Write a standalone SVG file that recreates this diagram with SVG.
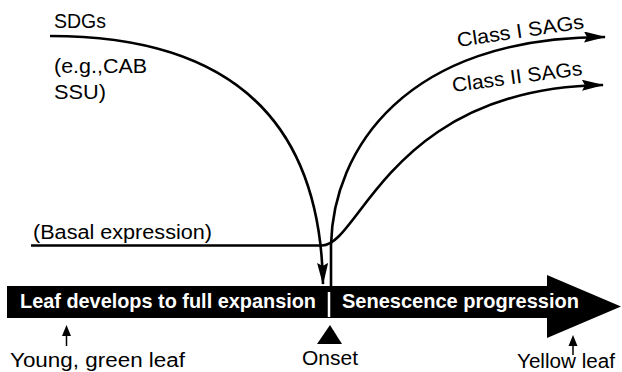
<svg xmlns="http://www.w3.org/2000/svg" width="622" height="372" viewBox="0 0 622 372">
<defs>
<style>
.t{font-family:"Liberation Sans",Arial,sans-serif;font-size:20px;fill:#000}
.b{font-family:"Liberation Sans",Arial,sans-serif;font-size:21px;font-weight:bold;fill:#fff}
.c{fill:none;stroke:#000;stroke-width:2.6}
</style>
<marker id="ah" markerWidth="22" markerHeight="11" refX="21" refY="5.5" orient="auto" markerUnits="userSpaceOnUse">
<path d="M0,0 L22,5.5 L0,11 L3,5.5 Z" fill="#000"/>
</marker>
</defs>
<rect width="622" height="372" fill="#fff"/>
<g id="timeline">
<path d="M7,286 L547,286 L547,275 L621,306.5 L547,338 L547,318 L7,318 Z" fill="#000"/>
<text class="b" x="20" y="308" textLength="296" lengthAdjust="spacingAndGlyphs">Leaf develops to full expansion</text>
<line x1="329" y1="292" x2="329" y2="317" stroke="#fff" stroke-width="2.5"/>
<text class="b" x="342" y="308" textLength="237" lengthAdjust="spacingAndGlyphs">Senescence progression</text>
</g>
<g id="connectors">
<path class="c" d="M50,36 C230,36 320,120 323,284" marker-end="url(#ah)"/>
<path class="c" d="M331,286 L331,245 C333,150 405,37 605,37" marker-end="url(#ah)"/>
<path class="c" d="M31,245.5 L322,245.5 C360,245.5 390,88 603,85" marker-end="url(#ah)"/>
</g>
<g id="sdgs">
<text class="t" x="54" y="28" textLength="52" lengthAdjust="spacingAndGlyphs">SDGs</text>
<text class="t" x="54" y="73" textLength="93" lengthAdjust="spacingAndGlyphs">(e.g.,CAB</text>
<text class="t" x="54" y="99" textLength="52" lengthAdjust="spacingAndGlyphs">SSU)</text>
</g>
<g id="basal">
<text class="t" x="33" y="239" textLength="179" lengthAdjust="spacingAndGlyphs">(Basal expression)</text>
</g>
<g id="class1">
<text class="t" x="458" y="47" transform="rotate(-8.5 458 47)" textLength="128" lengthAdjust="spacingAndGlyphs">Class I SAGs</text>
</g>
<g id="class2">
<text class="t" x="453" y="92" transform="rotate(-7.5 453 92)" textLength="131" lengthAdjust="spacingAndGlyphs">Class II SAGs</text>
</g>
<g id="onset">
<polygon points="330,325 317,344 342,344" fill="#000"/>
<text class="t" x="330" y="365" text-anchor="middle" textLength="56" lengthAdjust="spacingAndGlyphs">Onset</text>
</g>
<g id="young">
<line x1="66.5" y1="346" x2="66.5" y2="333" stroke="#000" stroke-width="1.5"/>
<polygon points="66.5,325 62,336 71,336" fill="#000"/>
<text class="t" x="10" y="367" textLength="175" lengthAdjust="spacingAndGlyphs">Young, green leaf</text>
</g>
<g id="yellow">
<line x1="573" y1="355" x2="573" y2="343" stroke="#000" stroke-width="1.5"/>
<polygon points="573,335 568.5,346 577.5,346" fill="#000"/>
<text class="t" x="517" y="368" textLength="98" lengthAdjust="spacingAndGlyphs">Yellow leaf</text>
</g>
</svg>
